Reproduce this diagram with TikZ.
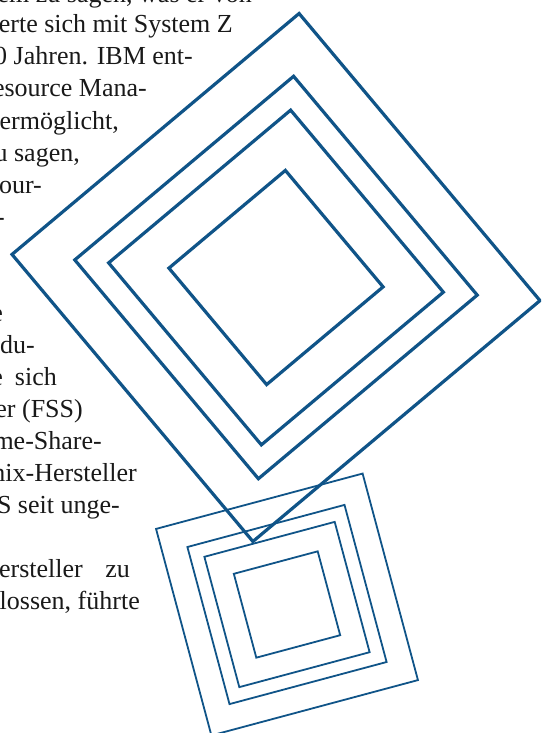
\documentclass[tikz,border=0pt]{standalone}
\usepackage{fontspec}
\setmainfont{Liberation Serif}
\usetikzlibrary{calc}
\definecolor{sqblue}{RGB}{16,84,136}
\tikzset{
  bigsq/.style={draw=sqblue, line width=3.2pt},
  smallsq/.style={draw=sqblue, line width=1.8pt},
  txt/.style={anchor=base east, inner sep=0pt, font=\fontsize{26}{32}\selectfont, text=black!90}
}
\begin{document}
\begin{tikzpicture}[x=1pt, y=-1pt]
\useasboundingbox (0,0) rectangle (541,733);
\clip (0,0) rectangle (541,733);

% ---- Text column, cut off at the left edge ----
\node[txt] (l0)  at (252,3)   {stem zu sagen, was er von};
\node[txt] (l1)  at (233,33)  {erte sich mit System Z};
\node[txt] (l2)  at (193,65)  {0 Jahren. IBM ent-};
\node[txt] (l3)  at (147,97)  {esource Mana-};
\node[txt] (l4)  at (119,129) {ermöglicht,};
\node[txt] (l5)  at (80,161)  {u sagen,};
\node[txt] (l6)  at (42,193)  {our-};
\node[txt] (l7)  at (5,225)   {-};
\node[txt] (l10) at (3,321)   {e};
\node[txt] (l11) at (35,353)  {du-};
\node[txt] (l12a) at (3,385)  {e};
\node[txt] (l12b) at (57,385) {sich};
\node[txt] (l13) at (83,417)  {er (FSS)};
\node[txt] (l14) at (102,449) {me-Share-};
\node[txt] (l15) at (137,481) {nix-Hersteller};
\node[txt] (l16) at (120,513) {S seit unge-};
\node[txt] (l18a) at (83,577) {Hersteller};
\node[txt] (l18b) at (130,577) {zu};
\node[txt] (l19) at (140,609) {lossen, führte};

% ---- Large nested diamonds ----
\coordinate (bigc) at (276,277.5);
\foreach \r in {265,202,168,107.5}
  \draw[bigsq] ($(bigc)+(5:\r)$) -- ($(bigc)+(95:\r)$)
    -- ($(bigc)+(185:\r)$) -- ($(bigc)+(275:\r)$) -- cycle;

% ---- Small nested squares ----
\coordinate (smallc) at (287,604.5);
\foreach \r in {151.2,115,95.4,61.4}
  \draw[smallsq] ($(smallc)+(30:\r)$) -- ($(smallc)+(120:\r)$)
    -- ($(smallc)+(210:\r)$) -- ($(smallc)+(300:\r)$) -- cycle;

\end{tikzpicture}
\end{document}
